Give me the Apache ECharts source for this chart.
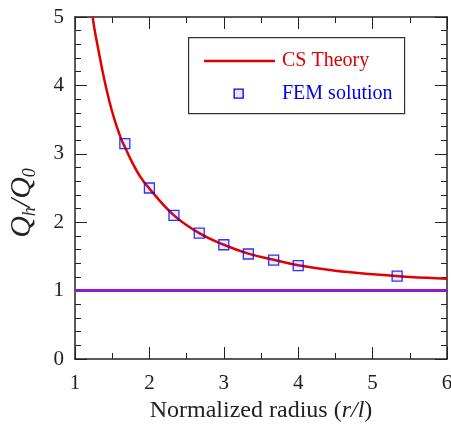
<!DOCTYPE html>
<html>
<head>
<meta charset="utf-8">
<script src="https://cdn.jsdelivr.net/npm/echarts@6/dist/echarts.min.js"></script>
<style>
  html, body { margin: 0; padding: 0; background: #fff; }
  #chart { width: 451px; height: 425px; }
</style>
</head>
<body>
<div id="chart"></div>
<script>
// CS theory curve
var csX = [1.2375, 1.264, 1.318, 1.367, 1.426, 1.493, 1.56, 1.627, 1.67, 1.762, 1.874, 2.0, 2.33, 2.67, 3.0, 3.33, 3.67, 4.0, 4.5, 5.0, 5.5, 6.0];
var csY = [5.0, 4.81, 4.5, 4.225, 3.93, 3.64, 3.40, 3.20, 3.10, 2.89, 2.67, 2.49, 2.1, 1.84, 1.67, 1.54, 1.45, 1.37, 1.29, 1.24, 1.2, 1.175];
// FEM points
var femX = [1.67, 2.0, 2.33, 2.67, 3.0, 3.33, 3.67, 4.0, 5.33];
var femY = [3.15, 2.5, 2.1, 1.84, 1.67, 1.535, 1.447, 1.364, 1.213];
// reference level
var refX = [1, 6];
var refY = [1, 1];
var legendNames = ['CS Theory', 'FEM solution'];

function pairs(xs, ys) {
  var out = [];
  for (var i = 0; i < xs.length; i++) out.push([xs[i], ys[i]]);
  return out;
}

var font = 'Liberation Serif';
var axisCol = '#222';
var red = '#e00000', blue = '#0000ee', purple = '#9418cc';

function axisBase(extra) {
  var a = {
    type: 'value',
    axisLine: { onZero: false, lineStyle: { color: axisCol, width: 1.5 } },
    axisTick: { inside: true, length: 12, lineStyle: { color: axisCol } },
    splitLine: { show: false }
  };
  for (var k in extra) a[k] = extra[k];
  return a;
}

var chart = echarts.init(document.getElementById('chart'));
var option = {
  animation: false,
  textStyle: { fontFamily: font },
  grid: { left: 75, right: 4, top: 17, bottom: 66, containLabel: false, outerBoundsMode: 'none' },
  xAxis: [
    axisBase({
      min: 1, max: 6, interval: 1,
      name: 'Normalized radius ({i|r/l})',
      nameLocation: 'middle', nameGap: 38,
      nameTextStyle: { fontSize: 24, color: axisCol, rich: { i: { fontStyle: 'italic', fontSize: 24, color: axisCol } } },
      minorTick: { show: true, splitNumber: 2, length: 6, lineStyle: { color: axisCol } },
      axisLabel: { fontSize: 21, color: axisCol, margin: 14 }
    }),
    axisBase({
      position: 'top', min: 1, max: 6, interval: 1,
      minorTick: { show: true, splitNumber: 2, length: 6, lineStyle: { color: axisCol } },
      axisLabel: { show: false }
    })
  ],
  yAxis: [
    axisBase({
      min: 0, max: 5, interval: 1,
      name: '{i|Q}{s|h}{i|/Q}{s|0}',
      nameLocation: 'middle', nameGap: 36, nameRotate: 90,
      nameTextStyle: {
        padding: [0, 30, 0, 0],
        rich: {
          i: { fontStyle: 'italic', fontSize: 30, color: axisCol, lineHeight: 34 },
          s: { fontStyle: 'italic', fontSize: 18, color: axisCol, verticalAlign: 'bottom', lineHeight: 34 }
        }
      },
      minorTick: { show: true, splitNumber: 5, length: 6, lineStyle: { color: axisCol } },
      axisLabel: { fontSize: 21, color: axisCol, margin: 11 }
    }),
    axisBase({
      position: 'right', min: 0, max: 5, interval: 1,
      minorTick: { show: true, splitNumber: 5, length: 6, lineStyle: { color: axisCol } },
      axisLabel: { show: false }
    })
  ],
  graphic: [
    { type: 'rect', left: 188, top: 37, z: 10,
      shape: { width: 216, height: 76 },
      style: { fill: '#fff', stroke: '#333', lineWidth: 1.2 } },
    { type: 'line', z: 11,
      shape: { x1: 204, y1: 61, x2: 275, y2: 61 },
      style: { stroke: red, lineWidth: 2.5 } },
    { type: 'text', left: 282, top: 51, z: 11,
      style: { text: legendNames[0], fill: red, font: '20px "Liberation Serif"' } },
    { type: 'rect', left: 233.5, top: 88.5, z: 11,
      shape: { width: 9, height: 9 },
      style: { fill: 'rgba(60,60,255,0.12)', stroke: blue, lineWidth: 1.3 } },
    { type: 'text', left: 282, top: 84, z: 11,
      style: { text: legendNames[1], fill: blue, font: '20px "Liberation Serif"' } }
  ],
  series: [
    {
      name: 'Reference', type: 'line', data: pairs(refX, refY),
      symbol: 'none', lineStyle: { color: purple, width: 3 }, z: 1
    },
    {
      name: legendNames[0], type: 'line', data: pairs(csX, csY), smooth: 0.4,
      symbol: 'none', lineStyle: { color: red, width: 2.5 }, z: 2
    },
    {
      name: legendNames[1], type: 'scatter', data: pairs(femX, femY),
      symbol: 'rect', symbolSize: 10,
      itemStyle: { color: 'rgba(60,60,255,0.12)', borderColor: blue, borderWidth: 1.3 },
      z: 3
    }
  ]
};
chart.setOption(option);
</script>
</body>
</html>
